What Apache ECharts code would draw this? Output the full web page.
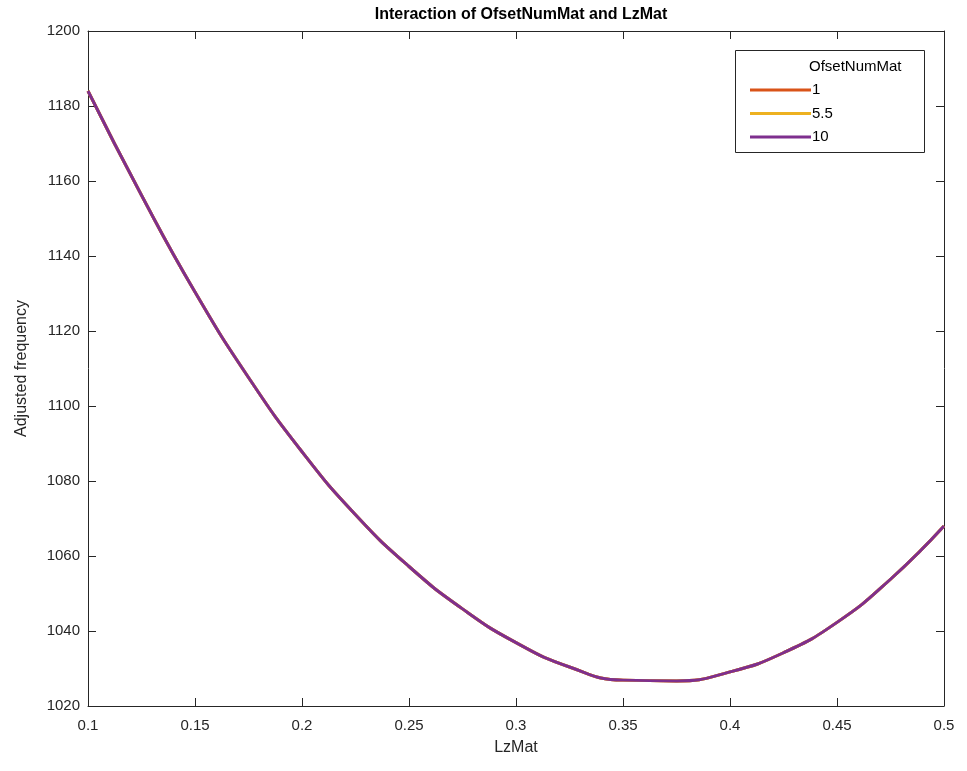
<!DOCTYPE html>
<html>
<head>
<meta charset="utf-8">
<script src="https://cdn.jsdelivr.net/npm/echarts@6/dist/echarts.min.js"></script>
<style>
  html, body { margin: 0; padding: 0; background: #fff; }
  #chart { width: 967px; height: 771px; }
</style>
</head>
<body>
<div id="chart"></div>
<script>
// LzMat sample points and adjusted frequency for each OfsetNumMat level
const lzMat = [0.1, 0.125, 0.15, 0.175, 0.2, 0.225, 0.25, 0.275, 0.3, 0.325, 0.35, 0.375, 0.4, 0.425, 0.45, 0.475, 0.5];
const freqOfset1 = [1184, 1156.2, 1130.4, 1107.6, 1087.8, 1071, 1057.2, 1045.9, 1036.9, 1030.4, 1026.9, 1026.7, 1029.1, 1034.2, 1042.3, 1053.8, 1068];
const freqOfset55 = [1184, 1156.2, 1130.4, 1107.6, 1087.8, 1071, 1057.2, 1045.9, 1036.9, 1030.4, 1026.9, 1026.7, 1029.1, 1034.2, 1042.3, 1053.8, 1068];
const freqOfset10 = [1184, 1156.2, 1130.4, 1107.6, 1087.8, 1071, 1057.2, 1045.9, 1036.9, 1030.4, 1026.9, 1026.7, 1029.1, 1034.2, 1042.3, 1053.8, 1068];
const levelNames = ['1', '5.5', '10'];
const levelColors = ['#D95319', '#EDB120', '#7E2F8E'];

const FONT = 'Liberation Sans, Arial, Helvetica, sans-serif';
const AXIS_COLOR = '#262626';

function pairs(ys) { return lzMat.map((x, i) => [x, ys[i]]); }

const chart = echarts.init(document.getElementById('chart'), null, { renderer: 'canvas' });

const grid = { left: 88, right: 23, top: 31, bottom: 65 };
const axisCommon = {
  axisLine: { show: true, lineStyle: { color: AXIS_COLOR, width: 1 } },
  axisTick: { show: true, inside: true, length: 8, lineStyle: { color: AXIS_COLOR, width: 1 } },
  splitLine: { show: false }
};

chart.setOption({
  animation: false,
  backgroundColor: '#ffffff',
  title: {
    text: 'Interaction of OfsetNumMat and LzMat',
    left: 516, top: 2, textAlign: 'center',
    textStyle: { fontFamily: FONT, fontSize: 16, fontWeight: 'bold', color: '#000' }
  },
  grid: grid,
  xAxis: [
    Object.assign({
      type: 'value', position: 'bottom', min: 0.1, max: 0.5, interval: 0.05,
      name: 'LzMat', nameLocation: 'middle', nameGap: 34,
      nameTextStyle: { fontFamily: FONT, fontSize: 16, color: AXIS_COLOR },
      axisLabel: {
        fontFamily: FONT, fontSize: 15, color: AXIS_COLOR, margin: 12,
        formatter: v => String(+v.toFixed(2))
      }
    }, axisCommon),
    Object.assign({
      type: 'value', position: 'top', min: 0.1, max: 0.5, interval: 0.05,
      axisLabel: { show: false }
    }, axisCommon)
  ],
  yAxis: [
    Object.assign({
      type: 'value', position: 'left', min: 1020, max: 1200, interval: 20,
      name: 'Adjusted frequency', nameLocation: 'middle', nameGap: 58,
      nameTextStyle: { fontFamily: FONT, fontSize: 16, color: AXIS_COLOR },
      axisLabel: { fontFamily: FONT, fontSize: 15, color: AXIS_COLOR, margin: 8, formatter: v => String(v) }
    }, axisCommon),
    Object.assign({
      type: 'value', position: 'right', min: 1020, max: 1200, interval: 20,
      axisLabel: { show: false }
    }, axisCommon)
  ],
  legend: {
    orient: 'vertical', left: 745, top: 77,
    itemWidth: 61, itemHeight: 3, itemGap: 7.5,
    icon: 'rect',
    textStyle: { fontFamily: FONT, fontSize: 15, color: '#000', lineHeight: 16, padding: [0, 0, 0, -4] },
    data: levelNames
  },
  graphic: [
    {
      type: 'rect', shape: { x: 735.5, y: 50.5, width: 189, height: 102 },
      style: { fill: '#fff', stroke: AXIS_COLOR, lineWidth: 1 }, z: 0, zlevel: 0
    },
    {
      type: 'text', left: 809, top: 59,
      style: { text: 'OfsetNumMat', fontFamily: FONT, fontSize: 15, fill: '#000' }, z: 10
    }
  ],
  series: [freqOfset1, freqOfset55, freqOfset10].map((ys, i) => ({
    name: levelNames[i],
    type: 'line',
    data: pairs(ys),
    smooth: true,
    showSymbol: false,
    symbol: 'none',
    lineStyle: { color: levelColors[i], width: 3 },
    itemStyle: { color: levelColors[i] },
    z: 2 + i
  }))
});
</script>
</body>
</html>
